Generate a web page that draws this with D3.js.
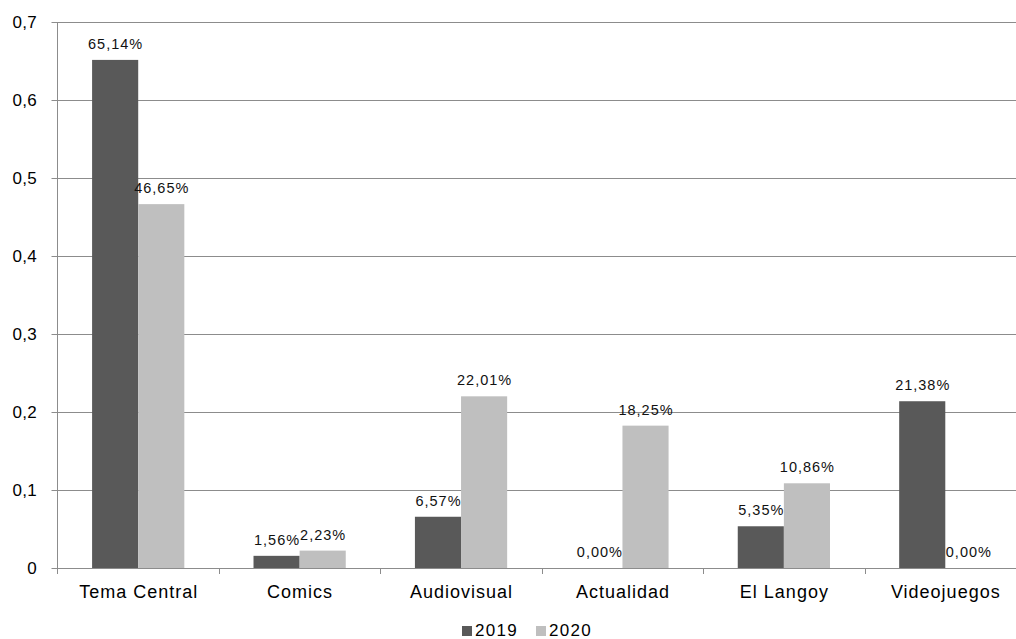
<!DOCTYPE html>
<html>
<head>
<meta charset="utf-8">
<script src="https://cdn.jsdelivr.net/npm/d3@7"></script>
<style>
  html, body { margin: 0; padding: 0; background: #fff; }
  svg { display: block; font-family: "Liberation Sans", Arial, sans-serif; }
</style>
</head>
<body>
<svg id="chart" width="1016" height="639"></svg>
<script>
// Categories and series shares
const categories = ["Tema Central", "Comics", "Audiovisual", "Actualidad", "El Langoy", "Videojuegos"];
const seriesNames = ["2019", "2020"];
const values2019 = [0.6514, 0.0156, 0.0657, 0.0, 0.0535, 0.2138];
const values2020 = [0.4665, 0.0223, 0.2201, 0.1825, 0.1086, 0.0];
const yTicks = [0, 0.1, 0.2, 0.3, 0.4, 0.5, 0.6, 0.7];

const seriesValues = { "2019": values2019, "2020": values2020 };
const colors = { "2019": "#595959", "2020": "#bfbfbf" };

const svg = d3.select("#chart");
const plotLeft = 57.5, plotRight = 1026, plotTop = 22, plotBottom = 568;

const x = d3.scaleBand().domain(categories).range([plotLeft, plotRight]).padding(0);
const xInner = d3.scaleBand().domain(seriesNames).range([0, x.bandwidth()])
  .paddingInner(0).paddingOuter(0.75);
const y = d3.scaleLinear().domain([0, 0.7]).range([plotBottom, plotTop]);

const fmtAxis = v => d3.format(".1f")(v).replace(".", ",");
const fmtPct = v => d3.format(".2f")(v * 100).replace(".", ",") + "%";

// Horizontal gridlines with left tick marks
svg.append("g").selectAll("line").data(yTicks.filter(t => t > 0)).join("line")
  .attr("x1", plotLeft - 6).attr("x2", plotRight)
  .attr("y1", d => Math.round(y(d)) + 0.5).attr("y2", d => Math.round(y(d)) + 0.5)
  .attr("stroke", "#8c8c8c").attr("stroke-width", 1);

// Y tick labels
svg.append("g").selectAll("text").data(yTicks).join("text")
  .attr("x", 37).attr("y", d => y(d) + 6)
  .attr("text-anchor", "end").attr("font-size", 17).attr("fill", "#000")
  .attr("letter-spacing", 0.3)
  .text(d => d === 0 ? "0" : fmtAxis(d));

// Bars
const groups = svg.append("g").selectAll("g").data(categories).join("g")
  .attr("transform", d => `translate(${x(d)},0)`);

groups.selectAll("rect")
  .data((c, i) => seriesNames.map(s => ({ s, v: seriesValues[s][i] })))
  .join("rect")
  .attr("x", d => xInner(d.s)).attr("width", xInner.bandwidth())
  .attr("y", d => y(d.v)).attr("height", d => y(0) - y(d.v))
  .attr("fill", d => colors[d.s]);

// Value labels
groups.selectAll("text")
  .data((c, i) => seriesNames.map(s => ({ s, v: seriesValues[s][i] })))
  .join("text")
  .attr("x", d => xInner(d.s) + xInner.bandwidth() / 2 + 0.5)
  .attr("y", d => y(d.v) - 11)
  .attr("text-anchor", "middle").attr("font-size", 14.5).attr("fill", "#111")
  .attr("letter-spacing", 1)
  .text(d => fmtPct(d.v));

// Y axis line
svg.append("line")
  .attr("x1", plotLeft).attr("x2", plotLeft).attr("y1", plotTop).attr("y2", plotBottom + 6)
  .attr("stroke", "#8c8c8c");

// X axis line and category ticks
svg.append("line")
  .attr("x1", plotLeft - 6).attr("x2", plotRight).attr("y1", plotBottom + 0.5).attr("y2", plotBottom + 0.5)
  .attr("stroke", "#8c8c8c");
svg.append("g").selectAll("line").data(categories.slice(1)).join("line")
  .attr("x1", d => Math.round(x(d)) + 0.5).attr("x2", d => Math.round(x(d)) + 0.5)
  .attr("y1", plotBottom).attr("y2", plotBottom + 6)
  .attr("stroke", "#8c8c8c");

// Category labels
svg.append("g").selectAll("text").data(categories).join("text")
  .attr("x", d => x(d) + x.bandwidth() / 2 + 0.5).attr("y", 598)
  .attr("text-anchor", "middle").attr("font-size", 18).attr("fill", "#000")
  .attr("letter-spacing", 1)
  .text(d => d);

// Legend
const legend = svg.append("g");
const legendItems = [{ s: "2019", x: 462 }, { s: "2020", x: 536 }];
legend.selectAll("rect").data(legendItems).join("rect")
  .attr("x", d => d.x).attr("y", 626).attr("width", 10).attr("height", 10)
  .attr("fill", d => colors[d.s]);
legend.selectAll("text").data(legendItems).join("text")
  .attr("x", d => d.x + 13).attr("y", 636)
  .attr("font-size", 17).attr("fill", "#000")
  .attr("letter-spacing", 1.3)
  .text(d => d.s);
</script>
</body>
</html>
